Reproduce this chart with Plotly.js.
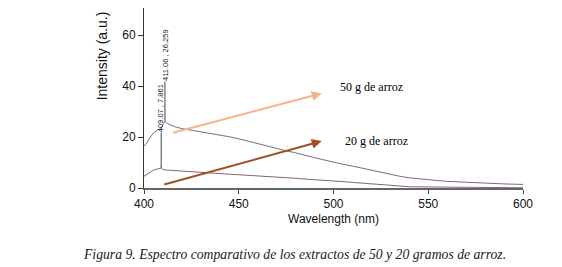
<!DOCTYPE html>
<html>
<head>
<meta charset="utf-8">
<script src="https://cdn.plot.ly/plotly-3.0.1.min.js"></script>
<style>html,body{margin:0;padding:0;background:#fff;}#chart{width:562px;height:267px;}</style>
</head>
<body>
<div id="chart"></div>
<script>
// Wavelength (nm) and intensity (a.u.) for the 50 g extract
const wl50 = [400, 401, 403, 405, 407, 408, 409, 410, 411.06, 412, 414, 416, 420, 425, 430, 435, 440, 445, 450, 455, 460, 465, 470, 475, 480, 485, 490, 495, 500, 505, 510, 515, 520, 525, 530, 535, 540, 545, 550, 555, 560, 565, 570, 575, 580, 585, 590, 595, 600];
const int50 = [16.5, 17.1, 19.6, 21.6, 22.7, 23.0, 23.3, 25.0, 26.259, 25.4, 24.6, 24.1, 23.3, 22.7, 22.0, 21.5, 20.8, 20.1, 19.3, 18.3, 17.5, 16.6, 15.5, 14.6, 13.8, 12.7, 11.9, 11.0, 10.1, 9.3, 8.6, 7.8, 7.0, 6.2, 5.3, 4.6, 4.0, 3.6, 3.1, 2.9, 2.6, 2.4, 2.3, 2.1, 1.9, 1.7, 1.6, 1.5, 1.4];

// Wavelength (nm) and intensity (a.u.) for the 20 g extract
const wl20 = [400, 401, 403, 405, 407, 409.07, 410, 412, 415, 420, 425, 430, 435, 440, 445, 450, 455, 460, 465, 470, 475, 480, 485, 490, 495, 500, 505, 510, 515, 520, 525, 530, 535, 540, 550, 560, 580, 600];
const int20 = [4.6, 5.1, 6.2, 7.0, 7.4, 7.861, 7.3, 7.0, 6.9, 6.6, 6.3, 6.0, 5.8, 5.6, 5.4, 5.2, 5.0, 4.8, 4.6, 4.3, 4.0, 3.8, 3.5, 3.3, 3.0, 2.8, 2.5, 2.2, 1.9, 1.6, 1.2, 0.9, 0.7, 0.5, 0.4, 0.3, 0.2, 0.1];

const xTicks = [400, 450, 500, 550, 600];
const yTicks = [0, 20, 40, 60];
const seriesLabels = ["50 g de arroz", "20 g de arroz"];
const xTitle = "Wavelength (nm)";
const yTitle = "Intensity (a.u.)";
const caption = "Figura 9. Espectro comparativo de los extractos de 50 y 20 gramos de arroz.";

function peak(xs, ys) {
  let k = 0;
  for (let i = 1; i < ys.length; i++) if (ys[i] > ys[k]) k = i;
  return {x: xs[k], y: ys[k]};
}
const p50 = peak(wl50, int50);
const p20 = peak(wl20, int20);

const sans = "Liberation Sans, Arial, sans-serif";
const serif = "Liberation Serif, Times New Roman, serif";

const traces = [
  {x: wl50, y: int50, type: "scatter", mode: "lines", line: {color: "#7d6a88", width: 1}, hoverinfo: "skip"},
  {x: wl20, y: int20, type: "scatter", mode: "lines", line: {color: "#8a5f80", width: 1}, hoverinfo: "skip"}
];

const annotations = [
  // peak markers
  {x: p20.x, y: p20.y, xref: "x", yref: "y", text: p20.x.toFixed(2) + " , " + p20.y.toFixed(3),
   textangle: -90, showarrow: true, arrowhead: 0, arrowwidth: 1, arrowcolor: "#444", ax: 0, ay: -60,
   font: {family: sans, size: 7.5, color: "#222"}, borderpad: 0},
  {x: p50.x, y: p50.y, xref: "x", yref: "y", text: p50.x.toFixed(2) + " , " + p50.y.toFixed(3),
   textangle: -90, showarrow: true, arrowhead: 0, arrowwidth: 1, arrowcolor: "#444", ax: 0, ay: -66,
   font: {family: sans, size: 7.5, color: "#222"}, borderpad: 0},
  // pointer arrows
  {x: 493.8, y: 37.1, xref: "x", yref: "y", axref: "x", ayref: "y", ax: 414.5, ay: 21.5, text: "",
   showarrow: true, arrowhead: 2, arrowsize: 1, arrowwidth: 2, arrowcolor: "#f6b38a"},
  {x: 493.8, y: 18.4, xref: "x", yref: "y", axref: "x", ayref: "y", ax: 409.9, ay: 1.2, text: "",
   showarrow: true, arrowhead: 2, arrowsize: 1, arrowwidth: 2, arrowcolor: "#a0501e"},
  // series labels
  {x: 519.8, y: 39.6, xref: "x", yref: "y", text: seriesLabels[0], showarrow: false,
   xanchor: "center", yanchor: "middle", font: {family: serif, size: 12, color: "#000"}},
  {x: 522.6, y: 18.4, xref: "x", yref: "y", text: seriesLabels[1], showarrow: false,
   xanchor: "center", yanchor: "middle", font: {family: serif, size: 12, color: "#000"}},
  // y axis title
  {x: -0.110, y: 0.733, xref: "paper", yref: "paper", text: yTitle, textangle: -90, showarrow: false,
   xanchor: "center", yanchor: "middle", font: {family: sans, size: 14, color: "#111"}},
  // caption
  {x: 0.396, y: -0.367, xref: "paper", yref: "paper", text: "<i>" + caption + "</i>", showarrow: false,
   xanchor: "center", yanchor: "middle", font: {family: serif, size: 13.7, color: "#222"}}
];

const layout = {
  width: 562, height: 267,
  margin: {l: 144, r: 39, t: 8, b: 79, pad: 0},
  paper_bgcolor: "#fff", plot_bgcolor: "#fff",
  showlegend: false,
  font: {family: sans, size: 12, color: "#111"},
  xaxis: {
    range: [400, 600], tickvals: xTicks, ticktext: xTicks.map(String),
    showgrid: false, zeroline: false, showline: true, linecolor: "#666", linewidth: 2,
    ticks: "outside", ticklen: 4, tickcolor: "#444", tickwidth: 1,
    tickfont: {family: sans, size: 12, color: "#111"},
    title: {text: xTitle, font: {family: sans, size: 12, color: "#111"}, standoff: 4}
  },
  yaxis: {
    range: [0, 70.6], tickvals: yTicks, ticktext: yTicks.map(String),
    showgrid: false, zeroline: false, showline: true, linecolor: "#333", linewidth: 1,
    ticks: "outside", ticklen: 5, tickcolor: "#333", tickwidth: 1,
    tickfont: {family: sans, size: 12, color: "#111"}
  },
  annotations: annotations
};

Plotly.newPlot("chart", traces, layout, {staticPlot: true, displayModeBar: false});
</script>
</body>
</html>
